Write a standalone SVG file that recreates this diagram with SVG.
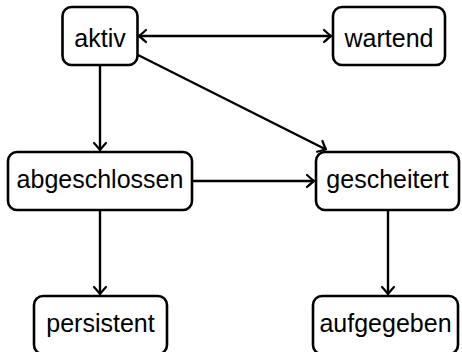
<svg xmlns="http://www.w3.org/2000/svg" width="462" height="352" viewBox="0 0 462 352">
<style>
.box{fill:#fff;stroke:#000;stroke-width:2.6}
.lbl{font-family:"Liberation Sans",Arial,sans-serif;font-size:25px;fill:#000;text-anchor:middle}
.edge{fill:none;stroke:#000;stroke-width:2.4;marker-end:url(#arr)}
</style>
<defs>
<marker id="arr" markerUnits="userSpaceOnUse" viewBox="-10 -8 12 16" refX="0" refY="0" markerWidth="12" markerHeight="16" orient="auto-start-reverse">
<path d="M-7,-6 Q-2,-1.5 0,0 Q-2,1.5 -7,6" fill="none" stroke="#000" stroke-width="2.2" stroke-linecap="round" stroke-linejoin="round"/>
</marker>
</defs>
<g id="connectors">
<path class="edge" d="M139,36 H331" style="marker-start:url(#arr)"/>
<path class="edge" d="M100,66 V150"/>
<path class="edge" d="M138,55 L326,149.5"/>
<path class="edge" d="M193,181 H314"/>
<path class="edge" d="M100,211 V294"/>
<path class="edge" d="M388,211 V294"/>
</g>
<g id="aktiv">
<rect class="box" x="62.5" y="7" width="75" height="58" rx="9"/>
<text class="lbl" x="100" y="46.5">aktiv</text>
</g>
<g id="wartend">
<rect class="box" x="333" y="7" width="112" height="58" rx="9"/>
<text class="lbl" x="389" y="46.5">wartend</text>
</g>
<g id="abgeschlossen">
<rect class="box" x="8" y="152" width="184" height="58" rx="9"/>
<text class="lbl" x="100" y="188">abgeschlossen</text>
</g>
<g id="gescheitert">
<rect class="box" x="316" y="152" width="143" height="58" rx="9"/>
<text class="lbl" x="387.5" y="188">gescheitert</text>
</g>
<g id="persistent">
<rect class="box" x="34" y="296" width="133" height="58" rx="9"/>
<text class="lbl" x="100.5" y="332">persistent</text>
</g>
<g id="aufgegeben">
<rect class="box" x="313" y="296" width="145" height="58" rx="9"/>
<text class="lbl" x="385.5" y="332">aufgegeben</text>
</g>
</svg>
